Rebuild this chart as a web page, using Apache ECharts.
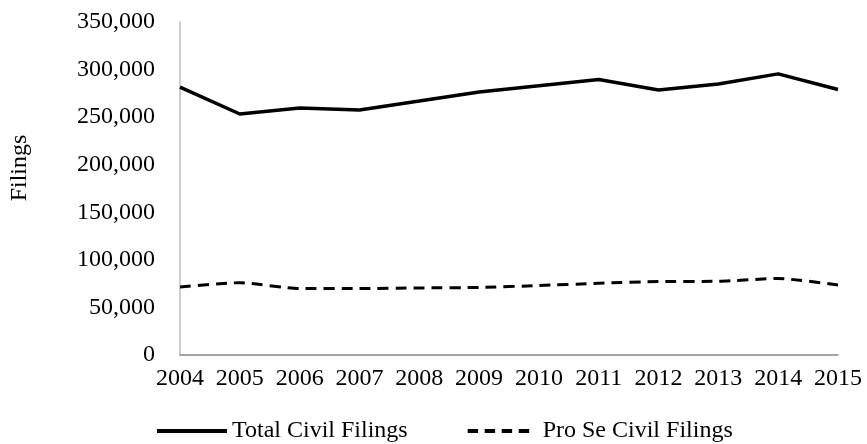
<!DOCTYPE html>
<html>
<head>
<meta charset="utf-8">
<script src="https://cdn.jsdelivr.net/npm/echarts@6/dist/echarts.min.js"></script>
<style>
  html, body { margin: 0; padding: 0; background: #fff; }
  #chart { width: 867px; height: 444px; }
</style>
</head>
<body>
<div id="chart"></div>
<script>
  // filings per year
  var years = ['2004', '2005', '2006', '2007', '2008', '2009', '2010', '2011', '2012', '2013', '2014', '2015']
  var totalCivil = [281500, 253300, 259500, 257600, 267000, 276500, 283000, 289500, 278500, 284800, 295500, 279000]
  var proSeCivil = [71500, 76000, 69800, 69800, 70500, 71000, 73000, 75400, 77200, 77500, 80400, 73600]
  var yTicks = [0, 50000, 100000, 150000, 200000, 250000, 300000, 350000]

  var font = '"Liberation Serif", "Times New Roman", serif'
  var chart = echarts.init(document.getElementById('chart'))

  var options = {
    animation: false,
    textStyle: { fontFamily: font },
    grid: {
      left: 180,
      right: 29,
      top: 22,
      bottom: 89,
      containLabel: false
    },
    legend: {
      top: 414,
      left: 152,
      itemWidth: 70,
      itemHeight: 4,
      itemGap: 60,
      symbolKeepAspect: false,
      itemStyle: { color: '#000' },
      textStyle: { fontFamily: font, fontSize: 24, color: '#000' },
      data: [
        { name: 'Total Civil Filings', icon: 'path://M0,0h70v4h-70z' },
        // four dashes, with a tiny speck at the end to leave a gap before the text
        { name: 'Pro Se Civil Filings', icon: 'path://M0,0h11v3h-11zM18,0h11v3h-11zM36,0h11v3h-11zM54,0h11v3h-11zM74,1h0.01v0.01h-0.01z' }
      ]
    },
    graphic: [{
      type: 'text',
      x: 20,
      y: 168,
      rotation: Math.PI / 2,
      style: {
        text: 'Filings',
        font: '24px ' + font,
        fill: '#000',
        align: 'center',
        verticalAlign: 'middle'
      }
    }],
    xAxis: {
      type: 'category',
      boundaryGap: false,
      data: years,
      axisTick: { show: false },
      axisLine: { lineStyle: { color: '#868686', width: 1.5 } },
      axisLabel: {
        color: '#000',
        fontSize: 24,
        fontFamily: font,
        margin: 12,
        interval: 0
      },
      splitLine: { show: false }
    },
    yAxis: {
      type: 'value',
      min: yTicks[0],
      max: yTicks[yTicks.length - 1],
      interval: 50000,
      axisLine: { show: true, lineStyle: { color: '#bfbfbf', width: 1.5 } },
      axisTick: { show: false },
      splitLine: { show: false },
      axisLabel: {
        color: '#000',
        fontSize: 24,
        fontFamily: font,
        margin: 25,
        formatter: function (v) {
          return v.toString().replace(/\B(?=(\d{3})+(?!\d))/g, ',')
        }
      }
    },
    series: [{
        name: 'Total Civil Filings',
        type: 'line',
        data: totalCivil,
        symbol: 'none',
        itemStyle: { color: '#000' },
        lineStyle: { color: '#000', width: 3.5 }
      },
      {
        name: 'Pro Se Civil Filings',
        type: 'line',
        data: proSeCivil,
        symbol: 'none',
        smooth: 0.2,
        itemStyle: { color: '#000' },
        lineStyle: { color: '#000', width: 3, type: [11, 7] }
      }
    ]
  }

  chart.setOption(options, true)
</script>
</body>
</html>
